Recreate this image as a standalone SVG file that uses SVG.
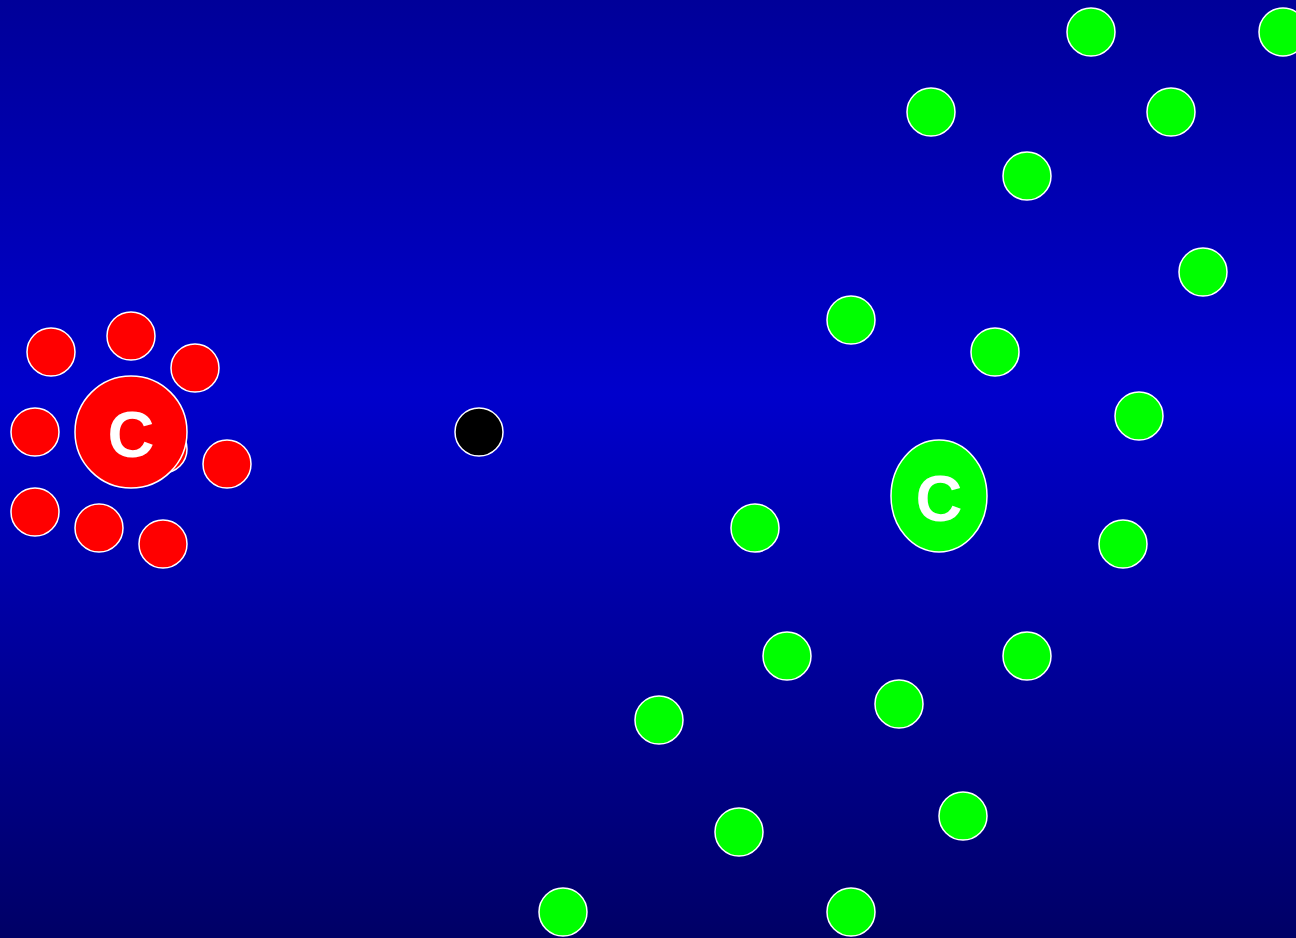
<svg xmlns="http://www.w3.org/2000/svg" width="1296" height="938" viewBox="0 0 1296 938">
<defs>
<linearGradient id="bg" x1="0" y1="0" x2="0" y2="1">
<stop offset="0" stop-color="#000099"/>
<stop offset="0.42" stop-color="#0000CC"/>
<stop offset="1" stop-color="#000066"/>
</linearGradient>
</defs>
<style>
.r{fill:#FF0000;stroke:#FFFFFF;stroke-width:1.5}
.g{fill:#00FF00;stroke:#FFFFFF;stroke-width:1.5}
.k{fill:#000000;stroke:#FFFFFF;stroke-width:1.5}
.t{fill:#FFFFFF;font-family:"Liberation Sans",Arial,sans-serif;font-weight:bold;text-anchor:middle;font-size:65px}
</style>
<rect x="0" y="0" width="1296" height="938" fill="url(#bg)"/>
<g id="connectors"></g>
<g id="red-cluster">
<circle id="r-hidden" class="r" cx="163" cy="449" r="24"/>
<circle id="r1" class="r" cx="51" cy="352" r="24"/>
<circle id="r2" class="r" cx="131" cy="336" r="24"/>
<circle id="r3" class="r" cx="195" cy="368" r="24"/>
<circle id="r4" class="r" cx="35" cy="432" r="24"/>
<circle id="r5" class="r" cx="227" cy="464" r="24"/>
<circle id="r6" class="r" cx="35" cy="512" r="24"/>
<circle id="r7" class="r" cx="99" cy="528" r="24"/>
<circle id="r8" class="r" cx="163" cy="544" r="24"/>
<g id="red-center">
<circle class="r" cx="131" cy="432" r="56"/>
<text class="t" x="131" y="457">C</text>
</g>
</g>
<g id="black-node"><circle class="k" cx="479" cy="432" r="24"/></g>
<g id="green-cluster">
<circle class="g" cx="1091" cy="32" r="24"/>
<circle class="g" cx="1283" cy="32" r="24"/>
<circle class="g" cx="931" cy="112" r="24"/>
<circle class="g" cx="1171" cy="112" r="24"/>
<circle class="g" cx="1027" cy="176" r="24"/>
<circle class="g" cx="1203" cy="272" r="24"/>
<circle class="g" cx="851" cy="320" r="24"/>
<circle class="g" cx="995" cy="352" r="24"/>
<circle class="g" cx="1139" cy="416" r="24"/>
<circle class="g" cx="755" cy="528" r="24"/>
<circle class="g" cx="1123" cy="544" r="24"/>
<circle class="g" cx="787" cy="656" r="24"/>
<circle class="g" cx="1027" cy="656" r="24"/>
<circle class="g" cx="659" cy="720" r="24"/>
<circle class="g" cx="899" cy="704" r="24"/>
<circle class="g" cx="739" cy="832" r="24"/>
<circle class="g" cx="963" cy="816" r="24"/>
<circle class="g" cx="563" cy="912" r="24"/>
<circle class="g" cx="851" cy="912" r="24"/>
<g id="green-center">
<ellipse class="g" cx="939" cy="496" rx="48" ry="56"/>
<text class="t" x="939" y="521">C</text>
</g>
</g>
</svg>
